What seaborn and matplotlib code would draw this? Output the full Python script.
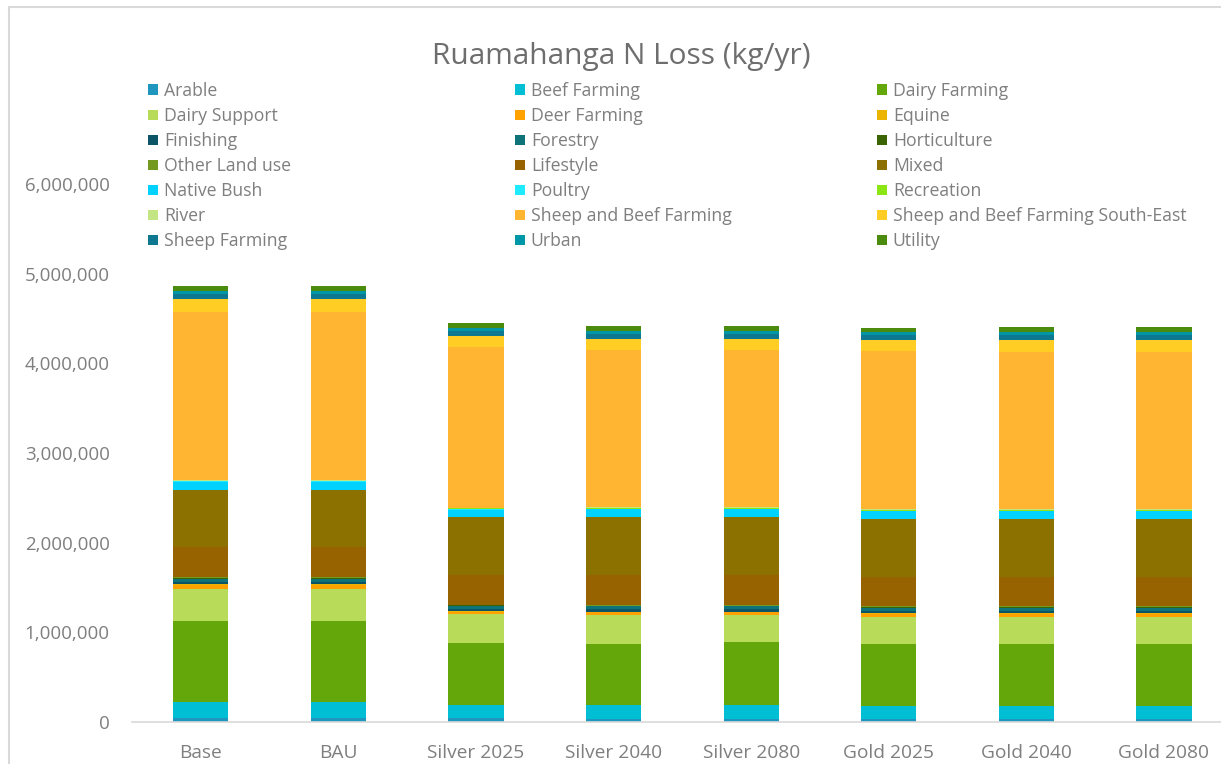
import numpy as np
import pandas as pd
import matplotlib
matplotlib.use("Agg")
import matplotlib.pyplot as plt
from matplotlib.patches import Rectangle
import seaborn as sns

# scenarios on the x axis
scenarios = ["Base", "BAU", "Silver 2025", "Silver 2040", "Silver 2080",
             "Gold 2025", "Gold 2040", "Gold 2080"]

# land uses, bottom of the stack first (kg N / yr)
arable = [45000, 45000, 45000, 30000, 30000, 30000, 30000, 30000]
beef_farming = [175000, 175000, 150000, 155000, 155000, 153000, 153000, 153000]
dairy_farming = [905000, 905000, 688000, 688000, 703000, 688000, 688000, 688000]
dairy_support = [360000, 360000, 316000, 316000, 301000, 298000, 298000, 298000]
deer_farming = [45000, 45000, 30000, 35000, 35000, 40000, 40000, 40000]
equine = [8000, 8000, 7000, 7000, 7000, 7000, 7000, 7000]
finishing = [25000, 25000, 25000, 25000, 25000, 25000, 25000, 25000]
forestry = [35000, 35000, 35000, 35000, 35000, 35000, 35000, 35000]
horticulture = [8000, 8000, 8000, 8000, 8000, 8000, 8000, 8000]
other_land_use = [6000, 6000, 6000, 6000, 6000, 6000, 6000, 6000]
lifestyle = [335000, 335000, 331000, 331000, 331000, 331000, 331000, 331000]
mixed = [645000, 645000, 643000, 654000, 654000, 640000, 640000, 640000]
native_bush = [85000, 85000, 85000, 82000, 82000, 89000, 89000, 89000]
poultry = [6000, 6000, 5000, 5000, 5000, 5000, 5000, 5000]
recreation = [10000, 10000, 12000, 12000, 12000, 12000, 12000, 12000]
river = [4000, 4000, 4000, 4000, 4000, 4000, 4000, 4000]
sheep_beef = [1880000, 1880000, 1790000, 1758000, 1758000, 1763000, 1750000, 1750000]
sheep_beef_se = [145000, 145000, 126000, 123000, 123000, 126000, 140000, 140000]
sheep_farming = [55000, 55000, 60000, 58000, 58000, 60000, 60000, 60000]
urban = [30000, 30000, 29000, 28000, 28000, 29000, 29000, 29000]
utility = [50000, 50000, 60000, 60000, 60000, 50000, 50000, 50000]

land_uses = ["Arable", "Beef Farming", "Dairy Farming", "Dairy Support", "Deer Farming",
             "Equine", "Finishing", "Forestry", "Horticulture", "Other Land use",
             "Lifestyle", "Mixed", "Native Bush", "Poultry", "Recreation", "River",
             "Sheep and Beef Farming", "Sheep and Beef Farming South-East",
             "Sheep Farming", "Urban", "Utility"]
colors = ["#1E96BE", "#00BED4", "#63A70A", "#B8DC5A", "#FFA200",
          "#EBB400", "#0B5566", "#0F737A", "#3A6400", "#739A1E",
          "#976200", "#8C7000", "#00D2FF", "#1EEBFF", "#8CE614", "#C3E682",
          "#FFB432", "#FFCD23",
          "#0F7891", "#0096A5", "#4B8C0F"]

df = pd.DataFrame(
    [arable, beef_farming, dairy_farming, dairy_support, deer_farming, equine,
     finishing, forestry, horticulture, other_land_use, lifestyle, mixed,
     native_bush, poultry, recreation, river, sheep_beef, sheep_beef_se,
     sheep_farming, urban, utility],
    index=land_uses, columns=scenarios).T
cum = df.cumsum(axis=1)

sns.set_style("white")
plt.rcParams["font.family"] = ["Open Sans", "DejaVu Sans"]

fig = plt.figure(figsize=(12.21, 7.64), dpi=100)
ax = fig.add_axes([132 / 1221, 1 - 722 / 764, 1100.8 / 1221, (722 - 184) / 764])

# stacked bars: draw cumulative totals from the top down
for name, col in zip(land_uses[::-1], colors[::-1]):
    sns.barplot(x=scenarios, y=cum[name].values, color=col, saturation=1,
                width=0.4, linewidth=0, label=name, ax=ax)

ax.set_ylim(0, 6000000)
ax.set_yticks(np.arange(0, 6000001, 1000000))
ax.set_yticklabels([f"{v:,.0f}" for v in np.arange(0, 6000001, 1000000)])
ax.tick_params(axis="y", length=0, pad=16, labelsize=13.5, labelcolor="#7f7f7f")
ax.tick_params(axis="x", length=0, pad=16, labelsize=13.8, labelcolor="#7f7f7f")
ax.set_xlabel("")
ax.set_ylabel("")
for s in ["left", "right", "top"]:
    ax.spines[s].set_visible(False)
ax.spines["bottom"].set_color("#d9d9d9")
ax.spines["bottom"].set_linewidth(1.2)
if ax.legend_:
    ax.legend_.remove()

fig.suptitle("Ruamahanga N Loss (kg/yr)", x=621 / 1221, y=1 - 42 / 764,
             va="top", fontsize=21.5, color="#6e6e6e")

# legend laid out row by row in three columns, like the original
h, l = ax.get_legend_handles_labels()
lookup = dict(zip(l, h))
col_x = [148, 515, 877]
for j in range(3):
    names = land_uses[j::3]
    fig.legend([lookup[n] for n in names], names, loc="upper left",
               bbox_to_anchor=(col_x[j] / 1221, 1 - 82 / 764),
               frameon=False, borderpad=0, borderaxespad=0,
               handlelength=0.55, handleheight=0.55, handletextpad=0.35,
               labelspacing=0.40, fontsize=12.7, labelcolor="#7f7f7f")

# chart border
fig.patches.append(Rectangle((9 / 1221, -0.05), 1.2, 1.05 - 7 / 764,
                             transform=fig.transFigure, fill=False,
                             edgecolor="#d9d9d9", linewidth=1.5))

fig.savefig("out.png", dpi=100)
